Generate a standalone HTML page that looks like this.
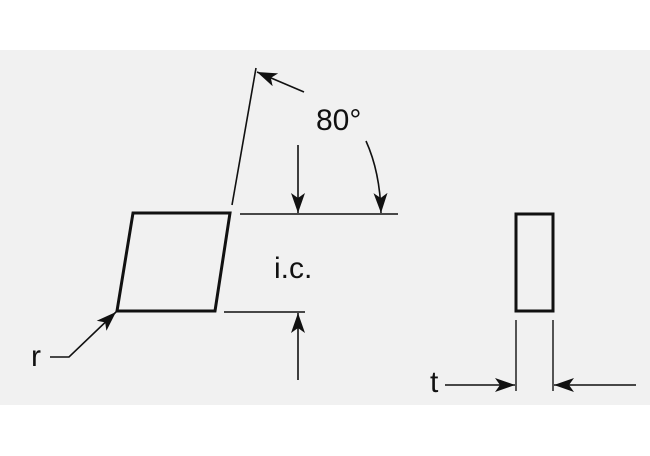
<!DOCTYPE html>
<html><head><style>body{margin:0;background:#fff}svg{display:block}</style></head>
<body>
<svg width="650" height="456" viewBox="0 0 650 456" xmlns="http://www.w3.org/2000/svg">
<defs>
<marker id="a" viewBox="0 0 10 10" refX="10" refY="5" markerWidth="11" markerHeight="11" markerUnits="userSpaceOnUse" orient="auto">
<path d="M0,0 L10,5 L0,10 L3,5 Z" fill="#111"/></marker>
<marker id="b" viewBox="0 0 10 10" refX="10" refY="5" markerWidth="20" markerHeight="20" markerUnits="userSpaceOnUse" orient="auto">
<path d="M0,1.5 L10,5 L0,8.5 L2.5,5 Z" fill="#111"/></marker>
</defs>
<rect x="0" y="50" width="650" height="355" fill="#f1f1f1"/>
<g fill="none" stroke="#111">
<path d="M133,213 L230,213 L215,311 L117,311 Z" stroke-width="3" stroke-linejoin="miter"/>
<rect x="516" y="214" width="37" height="97" stroke-width="3"/>
<line x1="232" y1="205" x2="256" y2="68" stroke-width="1.6"/>
<line x1="240" y1="214" x2="398" y2="214" stroke-width="1.6"/>
<line x1="224" y1="312" x2="305" y2="312" stroke-width="1.6"/>
<line x1="298" y1="145" x2="298" y2="213" stroke-width="1.6" marker-end="url(#b)"/>
<path d="M366,141 Q380,172 381,213" stroke-width="1.6" marker-end="url(#b)"/>
<line x1="304" y1="92" x2="257" y2="72" stroke-width="1.6" marker-end="url(#b)"/>
<line x1="298" y1="380" x2="298" y2="313" stroke-width="1.6" marker-end="url(#b)"/>
<polyline points="50,357 69,357 116,312" stroke-width="1.6" marker-end="url(#b)"/>
<line x1="516" y1="320" x2="516" y2="391" stroke-width="1.4"/>
<line x1="553" y1="320" x2="553" y2="391" stroke-width="1.4"/>
<line x1="445" y1="385" x2="515" y2="385" stroke-width="1.6" marker-end="url(#b)"/>
<line x1="636" y1="385" x2="554" y2="385" stroke-width="1.6" marker-end="url(#b)"/>
</g>
<g font-family="Liberation Sans, sans-serif" fill="#111">
<text x="316" y="130" font-size="30">80°</text>
<text x="274" y="278" font-size="30">i.c.</text>
<text x="31" y="366" font-size="30">r</text>
<text x="430" y="392" font-size="30">t</text>
</g>
</svg>
</body></html>
